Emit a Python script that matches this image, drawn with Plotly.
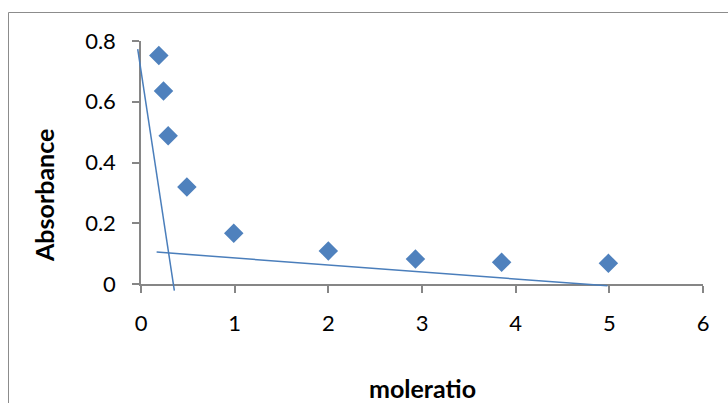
import plotly.graph_objects as go

# ---- data ----
mole_ratio = [0.19, 0.24, 0.29, 0.49, 0.99, 2.0, 2.93, 3.85, 4.99]
absorbance = [0.752, 0.635, 0.488, 0.319, 0.167, 0.109, 0.082, 0.0715, 0.068]

steep_x = [-0.035, 0.356]
steep_y = [0.773, -0.022]
flat_x = [0.167, 4.98]
flat_y = [0.105, -0.006]

x_ticks = [0, 1, 2, 3, 4, 5, 6]
y_ticks = [0, 0.2, 0.4, 0.6, 0.8]
y_tick_labels = ["0", "0.2", "0.4", "0.6", "0.8"]
x_range = [0, 6]
y_range = [0, 0.8]

# ---- layout geometry (pixels) ----
W, H = 728, 403
PX_L, PX_R = 141, 703      # plot area left/right
PX_T, PX_B = 41, 284       # plot area top/bottom

xdom = [PX_L / W, PX_R / W]
ydom = [(H - PX_B) / H, (H - PX_T) / H]

# overlay subplot covering whole paper with identical data mapping (so lines are not clipped at axes)
xs = (x_range[1] - x_range[0]) / (xdom[1] - xdom[0])
ys = (y_range[1] - y_range[0]) / (ydom[1] - ydom[0])
x2_range = [x_range[0] - xdom[0] * xs, x_range[1] + (1 - xdom[1]) * xs]
y2_range = [y_range[0] - ydom[0] * ys, y_range[1] + (1 - ydom[1]) * ys]

FONT = "Lato, Carlito, Calibri, sans-serif"
AXIS_GREY = "#868686"
MARKER = "#4F81BD"
LINE = "#4A7EBB"

fig = go.Figure()

fig.add_trace(go.Scatter(
    x=mole_ratio, y=absorbance, mode="markers",
    marker=dict(symbol="diamond", size=15, color=MARKER, line=dict(width=0)),
    cliponaxis=False, showlegend=False, hoverinfo="x+y",
))

for lx, ly in [(steep_x, steep_y), (flat_x, flat_y)]:
    fig.add_trace(go.Scatter(
        x=lx, y=ly, mode="lines", xaxis="x2", yaxis="y2",
        line=dict(color=LINE, width=1.5), showlegend=False, hoverinfo="skip",
    ))

axis_common = dict(
    showline=True, linecolor=AXIS_GREY, linewidth=1.5,
    ticks="outside", ticklen=7, tickwidth=1.5, tickcolor=AXIS_GREY,
    showgrid=False, zeroline=False, automargin=False,
    ticklabelstandoff=12,
    tickfont=dict(family=FONT, size=22, color="#000000"),
)

fig.update_layout(
    width=W, height=H,
    template="none",
    margin=dict(l=0, r=0, t=0, b=0),
    paper_bgcolor="white", plot_bgcolor="rgba(0,0,0,0)",
    showlegend=False,
    xaxis=dict(domain=xdom, range=x_range, tickvals=x_ticks, ticktext=[str(v) for v in x_ticks],
               anchor="y", **axis_common),
    yaxis=dict(domain=ydom, range=y_range, tickvals=y_ticks,
               ticktext=y_tick_labels, anchor="x", **axis_common),
    xaxis2=dict(domain=[0, 1], range=x2_range, visible=False, anchor="y2", fixedrange=True),
    yaxis2=dict(domain=[0, 1], range=y2_range, visible=False, anchor="x2", fixedrange=True),
    annotations=[
        dict(text="<b>Absorbance</b>", xref="paper", yref="paper",
             x=44 / W, y=1 - 196 / H, textangle=-90, showarrow=False,
             xanchor="center", yanchor="middle",
             font=dict(family=FONT, size=25, color="#000000")),
        dict(text="<b>moleratio</b>", xref="paper", yref="paper",
             x=422 / W, y=1 - 388 / H, showarrow=False,
             xanchor="center", yanchor="middle",
             font=dict(family=FONT, size=25, color="#000000")),
    ],
    shapes=[
        dict(type="rect", xref="paper", yref="paper",
             x0=8.5 / W, x1=1.05, y0=-0.05, y1=1 - 12.5 / H,
             line=dict(color="#8C8C8C", width=1), fillcolor="rgba(0,0,0,0)", layer="below"),
    ],
)

fig.write_html("out.html")
